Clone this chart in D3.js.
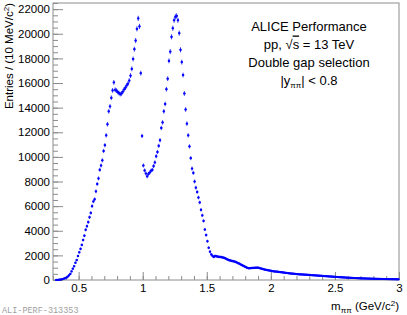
<!DOCTYPE html>
<html>
<head>
<meta charset="utf-8">
<script src="https://cdn.jsdelivr.net/npm/d3@7"></script>
<style>
  body { margin: 0; background: #fff; }
  svg { display: block; font-family: "Liberation Sans", Arial, sans-serif; }
</style>
</head>
<body>
<svg width="407" height="315"></svg>
<script>

// binning of the pi pi invariant mass histogram
const massMin = 0.3;
const massMax = 3.0;
const binWidth = 0.01;

// entries per 10 MeV bin (0.30 .. 3.00 GeV)
const counts = [
  0, 0, 5, 10, 20, 30, 50, 80, 110, 150,
  190, 280, 380, 500, 700, 920, 1120, 1400, 1620, 1950,
  2250, 2530, 2850, 3250, 3600, 4080, 4370, 4700, 5100, 5450,
  6000, 6380, 6560, 7200, 7800, 8250, 8950, 9300, 9720, 10480,
  10950, 11750, 12650, 13700, 14100, 14800, 15400, 16050, 15450, 15380,
  15270, 15180, 15100, 15150, 15300, 15480, 15620, 15800, 15950, 16200,
  16600, 17150, 17950, 18750, 19450, 20400, 21250, 20600, 16800, 11700,
  9300, 8900, 8650, 8420, 8620, 8730, 8880, 8950, 9250, 9550,
  10050, 10400, 10900, 11350, 12350, 12800, 13700, 14300, 15500, 16350,
  17800, 18550, 19750, 20450, 21100, 21380, 21450, 21100, 20050, 18700,
  17700, 16650, 15150, 13850, 12700, 11750, 10850, 9900, 9050, 8700,
  8000, 7500, 7150, 6700, 6300, 5700, 5250, 4800, 4100, 3650,
  3150, 2620, 2300, 2080, 1960, 1870, 1950, 1930, 1900, 1880,
  1870, 1860, 1830, 1800, 1760, 1700, 1650, 1610, 1580, 1550,
  1530, 1500, 1470, 1420, 1370, 1320, 1260, 1210, 1150, 1100,
  1050, 990, 960, 960, 970, 980, 980, 990, 1000, 1000,
  990, 960, 930, 900, 870, 840, 820, 800, 780, 760,
  740, 720, 700, 690, 680, 670, 650, 640, 630, 610,
  600, 580, 570, 560, 540, 530, 520, 510, 500, 490,
  480, 470, 460, 455, 450, 440, 435, 430, 420, 415,
  410, 400, 390, 385, 375, 370, 360, 350, 345, 340,
  330, 320, 315, 305, 300, 290, 285, 275, 270, 260,
  255, 245, 240, 230, 225, 220, 210, 205, 200, 190,
  185, 180, 175, 170, 165, 160, 155, 150, 145, 140,
  135, 130, 128, 125, 120, 118, 115, 110, 108, 105,
  100, 98, 95, 92, 90, 88, 85, 82, 80, 78,
  76, 74, 72, 70, 68, 66, 64, 62, 60, 58
];

// axis ticks
const xTicks = [0.5, 1, 1.5, 2, 2.5, 3];
const xMinorTicks = d3.range(3, 31).map(d => d / 10);
const yTicks = d3.range(0, 22001, 2000);
const yMinorTicks = d3.range(0, 22501, 500);

const yMax = 22500;
const axisColor = '#8c8c8c';

const svg = d3.select('svg');

svg.append('rect')
  .attr('width', 407)
  .attr('height', 315)
  .attr('fill', '#fff');

const x = d3.scaleLinear().domain([massMin, massMax]).range([53, 399]);
const y = d3.scaleLinear().domain([0, yMax]).range([280, 3]);

// histogram bins -> points at bin centres
const bins = counts.map((n, i) => ({
  m: massMin + (i + 0.5) * binWidth,
  n: n
})).filter(d => d.n > 0);

// minor ticks
svg.append('g')
  .attr('transform', 'translate(0,280)')
  .call(d3.axisBottom(x).tickValues(xMinorTicks).tickSize(-4).tickFormat(''));

svg.append('g')
  .attr('transform', 'translate(53,0)')
  .call(d3.axisLeft(y).tickValues(yMinorTicks).tickSize(-5).tickFormat(''));

// major ticks with labels
svg.append('g')
  .attr('class', 'xaxis')
  .attr('transform', 'translate(0,280)')
  .call(d3.axisBottom(x).tickValues(xTicks).tickSize(-8).tickPadding(4)
    .tickFormat(d => String(d)));

svg.append('g')
  .attr('class', 'yaxis')
  .attr('transform', 'translate(53,0)')
  .call(d3.axisLeft(y).tickValues(yTicks).tickSize(-10).tickPadding(3)
    .tickFormat(d => String(d)));

svg.selectAll('.domain').remove();
svg.selectAll('.tick line').attr('stroke', axisColor);
svg.selectAll('.tick text')
  .attr('fill', '#000')
  .style('font-size', '11.5px')
  .style('font-family', '"Liberation Sans", Arial, sans-serif');

// frame
svg.append('rect')
  .attr('x', 53)
  .attr('y', 3)
  .attr('width', 346)
  .attr('height', 277)
  .attr('fill', 'none')
  .attr('stroke', axisColor)
  .attr('stroke-width', 1);

// error bars
const pts = svg.append('g').attr('class', 'points');

pts.selectAll('.ey')
  .data(bins)
  .enter()
  .append('line')
  .attr('x1', d => x(d.m))
  .attr('x2', d => x(d.m))
  .attr('y1', d => y(d.n + Math.sqrt(d.n)) - 0.8)
  .attr('y2', d => y(d.n - Math.sqrt(d.n)) + 0.8)
  .attr('stroke', '#0000ff')
  .attr('stroke-width', 0.8);

pts.selectAll('.ex')
  .data(bins)
  .enter()
  .append('line')
  .attr('x1', d => x(d.m - binWidth / 2) - 0.6)
  .attr('x2', d => x(d.m + binWidth / 2) + 0.6)
  .attr('y1', d => y(d.n))
  .attr('y2', d => y(d.n))
  .attr('stroke', '#0000ff')
  .attr('stroke-width', 0.8);

pts.selectAll('.pt')
  .data(bins)
  .enter()
  .append('rect')
  .attr('x', d => x(d.m) - 1)
  .attr('y', d => y(d.n) - 1)
  .attr('width', 2)
  .attr('height', 2)
  .attr('fill', '#0000ff');

// axis titles
const xTitle = svg.append('text')
  .attr('x', 399)
  .attr('y', 310)
  .attr('text-anchor', 'end')
  .style('font-size', '11.5px');
xTitle.append('tspan').text('m');
xTitle.append('tspan').attr('dy', 3).style('font-size', '8px').text('ππ');
xTitle.append('tspan').attr('dy', -3).text(' (GeV/c');
xTitle.append('tspan').attr('dy', -4).style('font-size', '8px').text('2');
xTitle.append('tspan').attr('dy', 4).text(')');

const yTitle = svg.append('text')
  .attr('transform', 'translate(13,3) rotate(-90)')
  .attr('text-anchor', 'end')
  .style('font-size', '11.5px');
yTitle.append('tspan').text('Entries / (10 MeV/c');
yTitle.append('tspan').attr('dy', -4).style('font-size', '8px').text('2');
yTitle.append('tspan').attr('dy', 4).text(')');

// legend text
const legendX = 309;
const legend = svg.append('g').style('font-size', '13px').attr('text-anchor', 'middle');

legend.append('text').attr('x', legendX).attr('y', 30.5).text('ALICE Performance');

const l2 = legend.append('text').attr('x', legendX).attr('y', 48.5);
l2.append('tspan').text('pp, √');
l2.append('tspan').style('text-decoration', 'overline').text('s');
l2.append('tspan').text(' = 13 TeV');

legend.append('text').attr('x', legendX).attr('y', 66.5).text('Double gap selection');

const l4 = legend.append('text').attr('x', legendX).attr('y', 84.5);
l4.append('tspan').text('|y');
l4.append('tspan').attr('dy', 3).style('font-size', '8px').text('ππ');
l4.append('tspan').attr('dy', -3).text('| < 0.8');

// preliminary figure id
svg.append('text')
  .attr('x', 2)
  .attr('y', 313)
  .attr('fill', '#a0a0a0')
  .style('font-family', '"Liberation Mono", "DejaVu Sans Mono", monospace')
  .style('font-size', '8.5px')
  .text('ALI-PERF-313353');

</script>
</body>
</html>
